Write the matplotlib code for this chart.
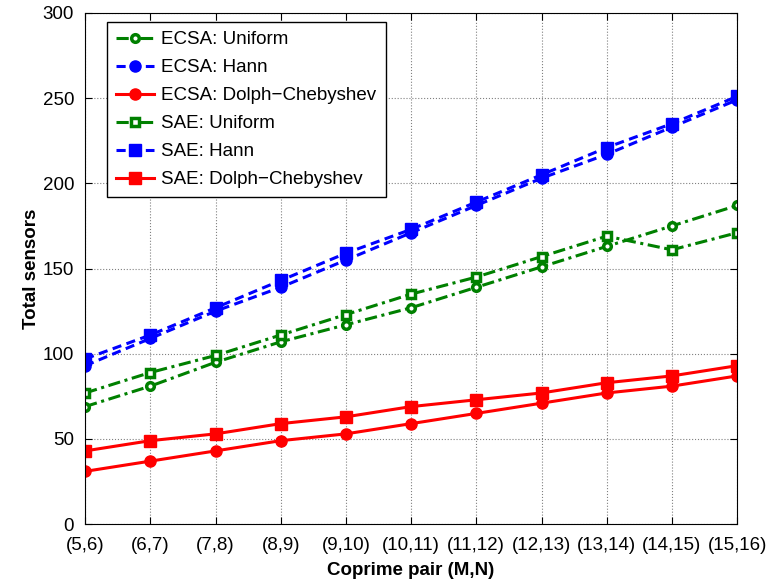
import matplotlib
matplotlib.use("Agg")
import matplotlib.pyplot as plt

plt.rcParams['font.family'] = ['Liberation Sans', 'DejaVu Sans']

pairs = ["(5,6)", "(6,7)", "(7,8)", "(8,9)", "(9,10)", "(10,11)",
         "(11,12)", "(12,13)", "(13,14)", "(14,15)", "(15,16)"]

ecsa_uniform = [69, 81, 95, 107, 117, 127, 139, 151, 163, 175, 187]
ecsa_hann = [93, 109, 125, 139, 155, 171, 187, 203, 217, 233, 249]
ecsa_dolph = [31, 37, 43, 49, 53, 59, 65, 71, 77, 81, 87]
sae_uniform = [77, 89, 99, 111, 123, 135, 145, 157, 169, 161, 171]
sae_hann = [97, 111, 127, 143, 159, 173, 189, 205, 221, 235, 251]
sae_dolph = [43, 49, 53, 59, 63, 69, 73, 77, 83, 87, 93]

x = range(len(pairs))

fig = plt.figure(figsize=(7.67, 5.87), dpi=100)
ax = fig.add_axes([0.111, 0.107, 0.85, 0.871])

dashdot = (0, (4, 1.5, 1, 1.5))
dashed = (0, (3, 1.8))
lw = 2.2

# ECSA
ax.plot(x, ecsa_uniform, color='green', linestyle=dashdot, lw=lw, marker='o',
        ms=5.5, mfc='white', mec='green', mew=2.5, label='ECSA: Uniform')
ax.plot(x, ecsa_hann, color='blue', linestyle=dashed, lw=lw, marker='o',
        ms=8, mfc='blue', mec='blue', label='ECSA: Hann')
ax.plot(x, ecsa_dolph, color='red', linestyle='-', lw=lw, marker='o',
        ms=8, mfc='red', mec='red', label='ECSA: Dolph\u2212Chebyshev')
# SAE
ax.plot(x, sae_uniform, color='green', linestyle=dashdot, lw=lw, marker='s',
        ms=5.5, mfc='white', mec='green', mew=2.5, label='SAE: Uniform')
ax.plot(x, sae_hann, color='blue', linestyle=dashed, lw=lw, marker='s',
        ms=8, mfc='blue', mec='blue', label='SAE: Hann')
ax.plot(x, sae_dolph, color='red', linestyle='-', lw=lw, marker='s',
        ms=8, mfc='red', mec='red', label='SAE: Dolph\u2212Chebyshev')

ax.set_xlim(0, len(pairs) - 1)
ax.set_ylim(0, 300)
ax.set_xticks(list(x))
ax.set_xticklabels(pairs)
ax.set_yticks(range(0, 301, 50))
ax.tick_params(direction='in', top=True, right=True, labelsize=13.5, length=5)
ax.tick_params(axis='x', pad=9)
ax.tick_params(axis='y', pad=8)
ax.grid(True, linestyle=':', color='gray', lw=0.8)

ax.set_xlabel('Coprime pair (M,N)', fontsize=13.5, fontweight='bold', labelpad=6)
ax.set_ylabel('Total sensors', fontsize=13.5, fontweight='bold', labelpad=2)

leg = ax.legend(loc='upper left', bbox_to_anchor=(0.033, 0.983), borderaxespad=0,
                fontsize=13.5, fancybox=False, framealpha=1, edgecolor='black',
                handlelength=2.0, handletextpad=0.4, labelspacing=0.58,
                borderpad=0.5)
leg.get_frame().set_linewidth(1.0)

plt.savefig('out.png', dpi=100)
